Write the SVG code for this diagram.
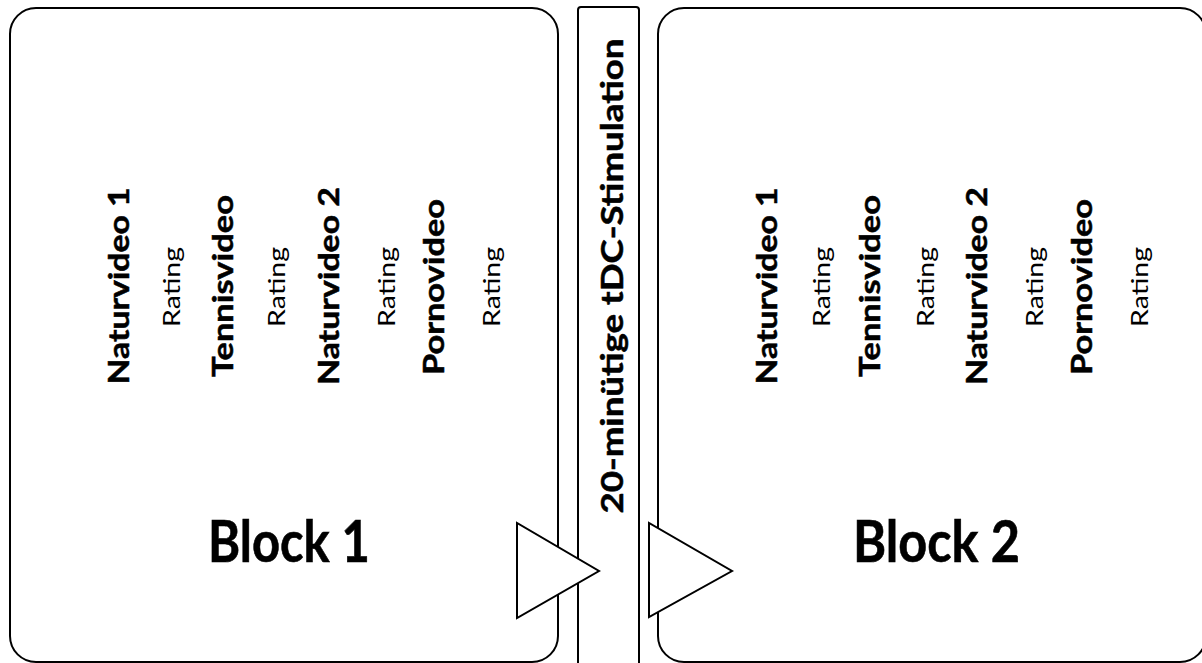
<svg xmlns="http://www.w3.org/2000/svg" width="1202" height="663" viewBox="0 0 1202 663">
<style>
.box{fill:#fff;stroke:#000;stroke-width:2}
.tri{fill:#fff;stroke:#000;stroke-width:2;stroke-linejoin:miter}
.vb{font-family:Lato,"Open Sans","Liberation Sans",sans-serif;font-weight:bold;font-size:28px;fill:#000;stroke:#000;stroke-width:0.5;text-anchor:middle}
.vr{font-family:Lato,"Open Sans","Liberation Sans",sans-serif;font-size:24px;fill:#000;text-anchor:middle}
.st{font-family:Lato,"Open Sans","Liberation Sans",sans-serif;font-weight:bold;font-size:31px;fill:#000;stroke:#000;stroke-width:0.5;text-anchor:middle}
.blk{font-family:Lato,"Open Sans","Liberation Sans",sans-serif;font-weight:bold;font-size:57px;fill:#000;stroke:#000;stroke-width:0.6;text-anchor:middle}
</style>
<rect width="1202" height="663" fill="#fff"/>
<g id="block1">
<rect class="box" x="10" y="8" width="548" height="654" rx="26" ry="26"/>
<text class="vb" transform="translate(129,286) rotate(-90)" textLength="197" lengthAdjust="spacingAndGlyphs">Naturvideo 1</text>
<text class="vr" transform="translate(180,287) rotate(-90)" textLength="80" lengthAdjust="spacingAndGlyphs">Rating</text>
<text class="vb" transform="translate(233,286) rotate(-90)" textLength="182" lengthAdjust="spacingAndGlyphs">Tennisvideo</text>
<text class="vr" transform="translate(285,287) rotate(-90)" textLength="80" lengthAdjust="spacingAndGlyphs">Rating</text>
<text class="vb" transform="translate(339,286) rotate(-90)" textLength="198" lengthAdjust="spacingAndGlyphs">Naturvideo 2</text>
<text class="vr" transform="translate(395,287) rotate(-90)" textLength="80" lengthAdjust="spacingAndGlyphs">Rating</text>
<text class="vb" transform="translate(444,287) rotate(-90)" textLength="176" lengthAdjust="spacingAndGlyphs">Pornovideo</text>
<text class="vr" transform="translate(500,287) rotate(-90)" textLength="80" lengthAdjust="spacingAndGlyphs">Rating</text>
<text class="blk" x="289" y="562" textLength="162" lengthAdjust="spacingAndGlyphs">Block 1</text>
</g>
<g id="stimulation">
<rect class="box" x="578" y="7" width="61" height="680" rx="3" ry="3"/>
<text class="st" transform="translate(623,276) rotate(-90)" textLength="475" lengthAdjust="spacingAndGlyphs">20-minütige tDC-Stimulation</text>
</g>
<g id="block2">
<rect class="box" x="658" y="8" width="548" height="654" rx="26" ry="26"/>
<text class="vb" transform="translate(777,286) rotate(-90)" textLength="197" lengthAdjust="spacingAndGlyphs">Naturvideo 1</text>
<text class="vr" transform="translate(830,287) rotate(-90)" textLength="80" lengthAdjust="spacingAndGlyphs">Rating</text>
<text class="vb" transform="translate(880,286) rotate(-90)" textLength="182" lengthAdjust="spacingAndGlyphs">Tennisvideo</text>
<text class="vr" transform="translate(934,287) rotate(-90)" textLength="80" lengthAdjust="spacingAndGlyphs">Rating</text>
<text class="vb" transform="translate(987,286) rotate(-90)" textLength="198" lengthAdjust="spacingAndGlyphs">Naturvideo 2</text>
<text class="vr" transform="translate(1043,287) rotate(-90)" textLength="80" lengthAdjust="spacingAndGlyphs">Rating</text>
<text class="vb" transform="translate(1092,287) rotate(-90)" textLength="176" lengthAdjust="spacingAndGlyphs">Pornovideo</text>
<text class="vr" transform="translate(1148,287) rotate(-90)" textLength="80" lengthAdjust="spacingAndGlyphs">Rating</text>
<text class="blk" x="936.5" y="562" textLength="167" lengthAdjust="spacingAndGlyphs">Block 2</text>
</g>
<g id="connectors">
<polygon class="tri" points="517,523 517,618 599,571"/>
<polygon class="tri" points="649,523 649,617 732,571"/>
</g>
</svg>
